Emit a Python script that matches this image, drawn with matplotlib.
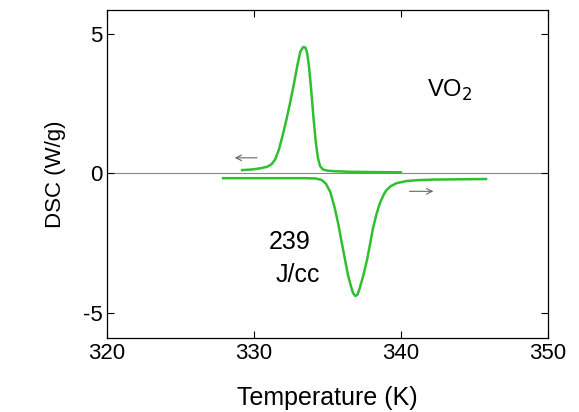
import matplotlib
matplotlib.use('Agg')
import matplotlib.pyplot as plt

# cooling run (arrow to the left)
cool_T = [329.2, 329.8, 330.4, 330.9, 331.2, 331.45, 331.7, 331.95, 332.2, 332.45,
          332.7, 332.95, 333.15, 333.35, 333.5, 333.62, 333.75, 333.9, 334.05,
          334.2, 334.35, 334.5, 334.7, 335.0, 335.5, 336.5, 338.0, 340.0]
cool_dsc = [0.11, 0.13, 0.17, 0.23, 0.32, 0.5, 0.85, 1.35, 1.9, 2.5,
            3.15, 3.85, 4.35, 4.52, 4.5, 4.3, 3.8, 2.95, 2.0,
            1.15, 0.55, 0.25, 0.13, 0.09, 0.07, 0.05, 0.04, 0.03]

# heating run (arrow to the right)
heat_T = [327.9, 330.0, 332.0, 333.5, 334.2, 334.6, 334.9, 335.2, 335.5, 335.75,
          335.96, 336.2, 336.4, 336.6, 336.75, 336.9, 337.05, 337.2, 337.45, 337.7,
          337.9, 338.1, 338.35, 338.57, 338.8, 339.0, 339.3, 339.7, 340.4, 341.2,
          342.2, 344.0, 345.8]
heat_dsc = [-0.18, -0.18, -0.18, -0.18, -0.19, -0.24, -0.38, -0.68, -1.25, -1.85,
            -2.45, -3.1, -3.65, -4.05, -4.3, -4.4, -4.35, -4.12, -3.65, -3.1,
            -2.55, -1.98, -1.45, -1.08, -0.8, -0.62, -0.47, -0.36, -0.28, -0.25,
            -0.23, -0.22, -0.21]

plt.rcParams['font.family'] = ['Liberation Sans', 'DejaVu Sans']
plt.rcParams['axes.unicode_minus'] = False

fig = plt.figure(figsize=(5.79, 4.12), dpi=100)
ax = fig.add_axes([0.185, 0.18, 0.761, 0.796])

green = '#2fbf2f'
ax.axhline(0, color='#888888', lw=0.8, zorder=1)
ax.plot(cool_T, cool_dsc, color=green, lw=1.8, zorder=3)
ax.plot(heat_T, heat_dsc, color=green, lw=1.8, zorder=3)

ax.annotate('', xy=(328.5, 0.55), xytext=(330.4, 0.55),
            arrowprops=dict(arrowstyle='->', color='#666666', lw=0.8))
ax.annotate('', xy=(342.4, -0.65), xytext=(340.4, -0.65),
            arrowprops=dict(arrowstyle='->', color='#666666', lw=0.8))

ax.text(343.3, 2.95, 'VO$_2$', fontsize=17, ha='center', va='center')
ax.text(332.4, -2.45, '239', fontsize=18, ha='center', va='center')
ax.text(333.0, -3.65, 'J/cc', fontsize=18, ha='center', va='center')

ax.set_xlim(320, 350)
ax.set_ylim(-5.9, 5.85)
ax.set_xticks([320, 330, 340, 350])
ax.set_yticks([-5, 0, 5])
ax.tick_params(direction='in', top=True, right=True, labelsize=16, length=5, width=0.8)
for s in ax.spines.values():
    s.set_linewidth(0.9)
ax.set_xlabel('Temperature (K)', fontsize=18, labelpad=16)
ax.set_ylabel('DSC (W/g)', fontsize=16, labelpad=12)

fig.savefig('out.png', dpi=100)
